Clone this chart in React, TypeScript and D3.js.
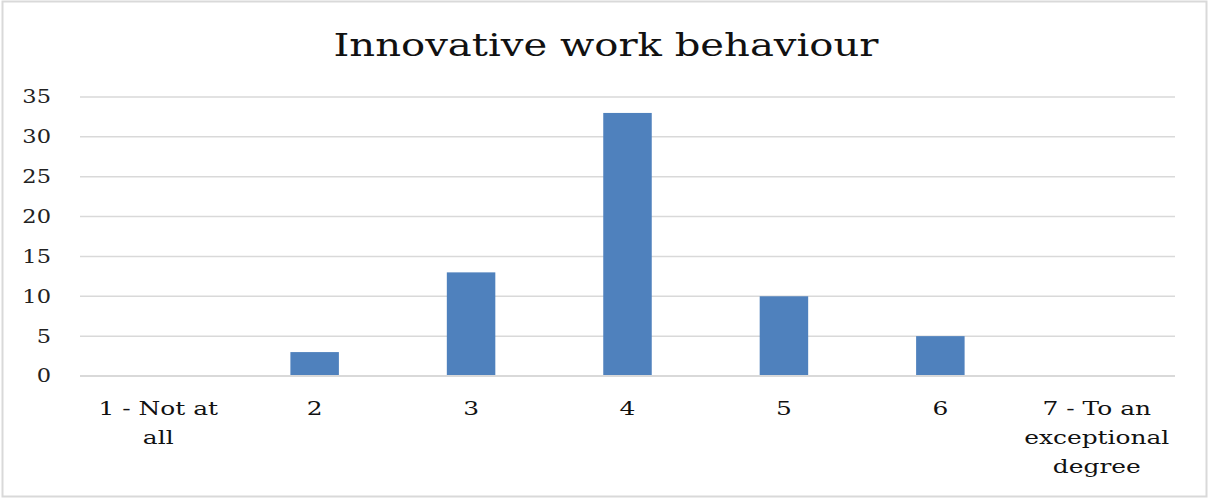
import React from "react";
import * as d3 from "d3";

const categories: string[][] = [
  ["1 - Not at", "all"],
  ["2"],
  ["3"],
  ["4"],
  ["5"],
  ["6"],
  ["7 - To an", "exceptional", "degree"],
];
const values: number[] = [0, 3, 13, 33, 10, 5, 0];
const yTicks: number[] = [0, 5, 10, 15, 20, 25, 30, 35];
const title = "Innovative work behaviour";

const W = 1209;
const H = 498;
const FONT = "'Palatino Linotype', 'Book Antiqua', Palatino, 'DejaVu Serif', serif";

export default function App() {
  const left = 80;
  const right = 1175;
  const top = 97;
  const bottom = 376;
  const x = d3
    .scaleBand<number>()
    .domain(d3.range(categories.length))
    .range([left, right])
    .paddingInner(0.69)
    .paddingOuter(0.345);
  const xc = d3.scaleBand<number>().domain(d3.range(categories.length)).range([left, right]);
  const y = d3.scaleLinear().domain([0, 35]).range([bottom, top]);

  return (
    <svg
      width={W}
      height={H}
      style={{ position: "fixed", left: 0, top: 0, background: "#fff" }}
      fontFamily={FONT}
    >
      <rect x={0} y={0} width={W} height={H} fill="#fff" />
      <rect x={2.5} y={1.5} width={W - 5} height={H - 3} fill="none" stroke="#d9d9d9" strokeWidth={2} />
      <text x={606} y={56} textAnchor="middle" fontSize={31} fill="#111" textLength={545} lengthAdjust="spacingAndGlyphs">
        {title}
      </text>
      {yTicks.map((t) => (
        <g key={t}>
          <line x1={left} x2={right} y1={y(t)} y2={y(t)} stroke="#d9d9d9" strokeWidth={1.5} />
          <g transform={`translate(51,${y(t)}) scale(1.25,1)`}>
            <text x={0} y={0} dy="0.36em" textAnchor="end" fontSize={18} fill="#222">
              {t}
            </text>
          </g>
        </g>
      ))}
      {values.map((v, i) => (
        <rect
          key={i}
          x={x(i)!}
          y={y(v)}
          width={x.bandwidth()}
          height={bottom - y(v)}
          fill="#4f81bd"
        />
      ))}
      <line x1={left} x2={right} y1={bottom} y2={bottom} stroke="#d9d9d9" strokeWidth={2} />
      {categories.map((lines, i) => (
        <g key={i} transform={`translate(${xc(i)! + xc.bandwidth() / 2},0) scale(1.31,1)`}>
          <text textAnchor="middle" fontSize={19} fill="#111">
            {lines.map((l, j) => (
              <tspan key={j} x={0} y={415 + j * 29}>
                {l}
              </tspan>
            ))}
          </text>
        </g>
      ))}
    </svg>
  );
}
